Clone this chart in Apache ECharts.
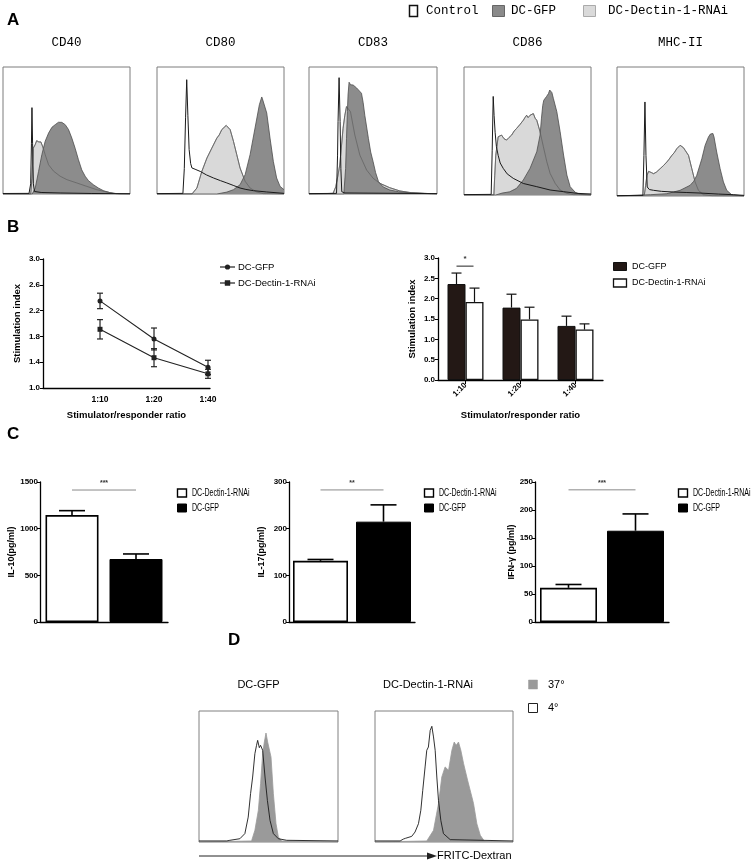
<!DOCTYPE html>
<html><head><meta charset="utf-8">
<script src="https://cdn.jsdelivr.net/npm/echarts@6/dist/echarts.min.js"></script>
<style>html,body{margin:0;padding:0;background:#fff}#c{width:753px;height:863px}</style>
</head><body><div id="c"></div>
<script>
// ---------------- Panel A: flow histograms [channel %, count %] ----------------
const markerTitles = ['CD40','CD80','CD83','CD86','MHC-II'];
const cd40Control = [[0,0.4],[20.5,0.5],[21.8,8],[22.4,40],[22.8,68],[23.3,40],[23.9,8],[24.8,2],[30,1.2],[45,0.8],[70,0.4],[100,0.2]];
const cd40Dectin = [[0,0],[21.8,0],[22.8,12],[23.8,36],[25.4,39],[26.5,42],[27.2,43],[28.2,41],[29,42.5],[29.8,41],[31.4,37],[33.2,31],[35.9,23],[39.8,18],[45,14],[50.3,11.3],[58.1,8.7],[66,6],[73.8,3.4],[81.7,1.6],[86.9,0.5],[92,0],[100,0]];
const cd40Gfp = [[0,0],[23,0],[25.4,4.7],[28,17.8],[30.6,31],[33.2,41.5],[35.9,48],[38.5,52.5],[41.1,54.6],[42.5,55.5],[43.7,56.5],[45,55.5],[46.3,56.4],[47.5,55.8],[49,54.6],[51.6,50.7],[54.2,44],[56.8,36],[59.4,27],[62,19],[64.7,14],[67.3,10.5],[71.2,7.3],[75.1,4.7],[79.1,2.6],[84.3,1],[89.5,0.3],[100,0]];

const cd80Control = [[0,0.3],[20.4,0.5],[21.5,20],[22.5,60],[23.4,90],[24.3,62],[25.3,35],[26.5,24],[27.5,20.5],[30,19.5],[34,17.8],[39,15],[44.5,12.6],[50,10.5],[55,8.7],[60,6.8],[65.4,4.7],[70,3.6],[76,2.6],[86.4,1.6],[100,0.5]];
const cd80Dectin = [[0,0],[27.5,0],[31.4,4.7],[35.3,17.8],[39.3,28.3],[43.2,36.2],[47.1,44],[49,46.5],[51,50.7],[52.5,52],[54.5,54],[55.5,52.5],[57.6,50.7],[60.2,41.5],[62.8,31],[65.4,20.5],[69.4,10],[73.3,4.7],[78.5,1.6],[83.8,0.3],[100,0]];
const cd80Gfp = [[0,0],[47.1,0],[55,1.5],[60.2,3.4],[65.4,7.3],[69.4,15.2],[73.3,31],[77.2,52],[80.6,70.3],[82.5,76.4],[83.3,74],[84.3,73],[86.4,63.8],[89,44],[91.6,25.7],[94.2,12.6],[96.9,6],[100,3.4]];

const cd83Control = [[0,0.3],[21.5,0.5],[22.3,30],[22.7,57],[23.5,91.6],[24.3,57],[24.9,20],[25.6,1.8],[28,0.8],[100,0.3]];
const cd83Dectin = [[0,0],[18.8,0.5],[20.9,5.7],[22.5,14],[24,22.8],[25.3,37],[26.6,51.7],[28,62],[29.3,68.8],[30.5,70],[32.4,64.8],[35.8,46.5],[39.7,30.7],[45,18.9],[50.1,12.4],[55.4,8.4],[63,5],[71,2.4],[80,1],[94.5,0.3],[100,0]];
const cd83Gfp = [[0,0],[27.2,0],[27.9,0.5],[28.6,20],[29.3,43.8],[30,65],[30.5,78],[31.3,88],[32.5,86],[33.5,87],[34.5,85.8],[36,84.5],[37.2,83.5],[38.4,83.2],[39.5,81],[41,79.3],[42.3,72],[43.6,62],[46.4,43.8],[48.2,33],[50.1,25.4],[52,17],[54.3,9.7],[58,5.5],[63.2,3.1],[70,1.8],[78.8,1],[90,0.4],[100,0]];

const cd86Control = [[0,0.3],[21.4,0.5],[22.2,35],[23,77],[23.7,62],[24.5,49],[25.5,38],[26.9,31],[28.5,25],[30.9,20.8],[34,16.5],[38.8,13],[46.7,9],[57.3,6.5],[67.8,3.9],[78.4,2.6],[88.9,1.3],[100,0.8]];
const cd86Dectin = [[0,0],[23.5,0],[24.2,15],[25,31],[26.9,45.5],[28,47],[29.6,46.8],[31.5,44],[33.5,42.9],[35.5,45],[37.5,46.8],[39.5,50],[41.4,52],[44,55],[46.7,58.4],[48,60.5],[49.3,62.3],[50.5,60.5],[52,62.3],[53.3,61],[54.6,63.6],[56,60],[57.3,58.4],[59.9,49.4],[62.5,37.7],[65.2,26],[67.8,16.9],[71.8,9.1],[75.7,3.9],[81,1.3],[86,0.3],[100,0]];
const cd86Gfp = [[0,0],[25,0],[30,1.5],[36,2.5],[41.4,5.2],[46.7,11.7],[52,20.8],[57.3,33.8],[59.9,46.8],[61,60],[62,70],[62.8,74],[63.9,75.3],[65,77],[66.5,79.2],[67.5,82],[68.3,83.1],[69.2,80],[70.4,75.3],[73.1,65],[75.7,49.4],[78.4,31.2],[81,15.6],[83.6,6.5],[87.6,2.1],[91.6,0.5],[100,0]];

const mhcControl = [[0,0.3],[20.4,0.5],[21.2,31.5],[22,72.9],[22.8,31.5],[23.8,7],[25.5,5],[28.8,4.4],[35,3.6],[44.5,3.1],[55,2.7],[65.4,2.3],[80,1.5],[91.6,1],[100,0.5]];
const mhcDectin = [[0,0],[21.5,0.5],[22.5,8],[23.6,16],[24.9,19.1],[27,18.2],[28.8,17.3],[31,18.5],[34,21.2],[36.5,23.5],[39.3,26.4],[41,28.5],[43.2,31.5],[45,33.5],[47.1,36.7],[48.5,38],[49.7,39.3],[51,38.8],[52.3,37.5],[53.7,35.4],[55,34],[56.3,31.5],[58.9,21.2],[61.5,10.9],[64.1,4.4],[68,1],[75,0.2],[100,0]];
const mhcGfp = [[0,0],[26.2,1],[39.3,1.8],[49.7,4.4],[57.6,8.3],[60.5,11.5],[62.8,16],[66.8,28.9],[69.4,39.3],[72,45.7],[73.5,48],[74.6,49.1],[75.5,48.5],[76.4,45.7],[78.5,34.1],[81.2,21.2],[83.8,10.9],[86.4,4.4],[90.3,1],[100,0]];

// ---------------- Panel B: MLR stimulation index ----------------
const ratioLabels = ['1:10','1:20','1:40'];
const lineGfp = [2.35, 1.76, 1.32];
const lineGfpErr = [0.12, 0.17, 0.11];
const lineDectin = [1.91, 1.47, 1.22];
const lineDectinErr = [0.15, 0.14, 0.07];
const barGfp = [2.36, 1.78, 1.33];
const barGfpErr = [0.27, 0.33, 0.24];
const barDectin = [1.92, 1.49, 1.24];
const barDectinErr = [0.34, 0.30, 0.14];

// ---------------- Panel C: cytokines ----------------
const cGroups = ['DC-Dectin-1-RNAi','DC-GFP'];
const il10 = [1146, 675];
const il10Err = [47, 54];
const il17 = [131, 215];
const il17Err = [3, 36];
const ifng = [61, 163];
const ifngErr = [6, 30];
const cTitles = ['IL-10(pg/ml)','IL-17(pg/ml)','IFN-γ (pg/ml)'];
const cMax = [1500, 300, 250];
const cStep = [500, 100, 50];
const cSigLabels = ['***','**','***'];
const cSigLevel = [1414, 283, 236];

// ---------------- Panel D: FITC-dextran uptake ----------------
const dTitles = ['DC-GFP','DC-Dectin-1-RNAi'];
const dGfpCold = [[0,0.8],[20,0.8],[22.2,1.3],[29.4,2.5],[33,6.4],[35.4,19],[37.1,36.9],[38.6,49.6],[40.2,67.4],[41.4,73.8],[42.2,77.6],[43.4,72],[44.3,73.8],[45.8,70],[47.5,49.6],[49.2,31.8],[51.1,16.5],[53.5,6.4],[57.1,2.5],[63.1,1.3],[100,0.8]];
const dGfpWarm = [[0,0],[37.8,0.8],[40.2,8.9],[42.7,24.2],[44.3,44.5],[45.8,67.4],[47,76.3],[48.2,83.2],[49.4,76.3],[50.6,77.6],[51.8,64.9],[53.5,36.9],[55.4,14],[57.1,3.8],[59.5,0.8],[100,0]];
const dDectinCold = [[0,0.8],[18.2,0.8],[20.5,2.2],[22,2.8],[23,2.5],[26.6,4.3],[29,7.6],[31.5,14],[33.2,24.2],[34.6,39.4],[36.3,57.3],[37.5,70],[38.7,72.5],[40,85.2],[41.2,88.3],[42.4,80.2],[43.6,70],[44.8,49.6],[46,31.8],[47.7,16.5],[49.6,6.4],[54.5,1.8],[100,0.8]];
const dDectinWarm = [[0,0],[37.5,0.8],[42.4,8.9],[46,29.3],[48.4,49.6],[50.8,57.3],[52,56],[53.3,54.7],[55.7,70],[57.4,76.3],[58.8,73.8],[60.5,76.3],[62.2,70],[64.2,59.8],[67.1,47.1],[70.2,34.4],[71.4,29.3],[73.8,14],[76.3,5.1],[79.2,0.8],[100,0]];

// ======================================================================
const SANS = "'Liberation Sans', Arial, sans-serif";
const NARROW = "'Liberation Sans Narrow', 'Liberation Sans', sans-serif";
const MONO = "'Liberation Mono', monospace";

const grids = [], xAxes = [], yAxes = [], series = [];
function addGrid(g){ grids.push(g); return grids.length - 1; }

const histBoxes = [
  {left:3, top:67, width:127, height:127},
  {left:157, top:67, width:127, height:127},
  {left:309, top:67, width:128, height:127},
  {left:464, top:67, width:127, height:128},
  {left:617, top:67, width:127, height:129}
];
const histData = [
  [cd40Dectin, cd40Gfp, cd40Control],
  [cd80Dectin, cd80Gfp, cd80Control],
  [cd83Dectin, cd83Gfp, cd83Control],
  [cd86Dectin, cd86Gfp, cd86Control],
  [mhcDectin, mhcGfp, mhcControl]
];
function hiddenAxes(gi){
  xAxes.push({type:'value', gridIndex:gi, min:0, max:100, show:false});
  yAxes.push({type:'value', gridIndex:gi, min:0, max:100, show:false});
}
function lineS(gi, data, stroke, w, fill, z){
  const s = {type:'line', xAxisIndex:gi, yAxisIndex:gi, data, symbol:'none', silent:true, z,
    lineStyle:{color:stroke, width:w}};
  if (fill) s.areaStyle = {color:fill, opacity:1};
  return s;
}
histBoxes.forEach((b, k) => {
  const gi = addGrid(Object.assign({show:true, borderColor:'#7d7d7d', borderWidth:1, backgroundColor:'#fff'}, b));
  hiddenAxes(gi);
  const [light, dark, ctrl] = histData[k];
  series.push(lineS(gi, light, '#707070', 0.8, '#d9d9d9', 2));
  series.push(lineS(gi, dark, '#4d4d4d', 0.8, '#8c8c8c', 3));
  series.push(lineS(gi, light, '#5e5e5e', 0.7, null, 4));
  series.push(lineS(gi, ctrl, '#1a1a1a', 1, null, 5));
});

const dBoxes = [
  {left:199, top:711, width:139, height:131},
  {left:375, top:711, width:138, height:131}
];
const dData = [[dGfpWarm, dGfpCold],[dDectinWarm, dDectinCold]];
dBoxes.forEach((b, k) => {
  const gi = addGrid(Object.assign({show:true, borderColor:'#808080', borderWidth:1, backgroundColor:'#fff'}, b));
  hiddenAxes(gi);
  series.push(lineS(gi, dData[k][0], '#9a9a9a', 0.8, '#9a9a9a', 2));
  series.push(lineS(gi, dData[k][1], '#1a1a1a', 0.9, null, 4));
});

function axStyle(extra){
  return Object.assign({
    axisLine:{show:true, onZero:false, lineStyle:{color:'#000', width:1.3}},
    axisTick:{show:true, length:3, lineStyle:{color:'#000', width:1}},
    axisLabel:{color:'#000', fontSize:8, fontWeight:'bold', fontFamily:SANS, margin:3},
    splitLine:{show:false}
  }, extra);
}

function errBars(gi, xs, values, errs, offsetPx, capPx, both, color, lw){
  return {type:'custom', xAxisIndex:gi, yAxisIndex:gi, silent:true, z:6, clip:false,
    data: values.map((v, i) => [xs[i], v, errs[i]]),
    renderItem(params, api){
      const x = api.value(0), v = api.value(1), e = api.value(2);
      const mid = api.coord([x, v]);
      const top = api.coord([x, v + e]);
      const bot = both ? api.coord([x, v - e]) : mid;
      const cx = mid[0] + offsetPx;
      const st = {stroke:color, lineWidth:lw};
      const ch = [
        {type:'line', shape:{x1:cx, y1:bot[1], x2:cx, y2:top[1]}, style:st},
        {type:'line', shape:{x1:cx-capPx, y1:top[1], x2:cx+capPx, y2:top[1]}, style:st}
      ];
      if (both) ch.push({type:'line', shape:{x1:cx-capPx, y1:bot[1], x2:cx+capPx, y2:bot[1]}, style:st});
      return {type:'group', children:ch};
    }};
}
function sigMark(gi, x0, x1, off0, off1, level, label, color, fontSize){
  return {type:'custom', xAxisIndex:gi, yAxisIndex:gi, silent:true, z:6, clip:false,
    data:[[x0, level, x1]],
    renderItem(params, api){
      const p0 = api.coord([api.value(0), api.value(1)]);
      const p1 = api.coord([api.value(2), api.value(1)]);
      const a = p0[0] + off0, b = p1[0] + off1;
      return {type:'group', children:[
        {type:'line', shape:{x1:a, y1:p0[1], x2:b, y2:p0[1]}, style:{stroke:color, lineWidth:1}},
        {type:'text', x:(a+b)/2, y:p0[1]-7, style:{text:label, fill:'#333', font:'bold '+fontSize+'px '+SANS, textAlign:'center', textVerticalAlign:'middle'}}
      ]};
    }};
}

// ---- B1 line chart ----
const gB1 = addGrid({left:43, top:259, width:167, height:129});
xAxes.push(axStyle({type:'value', gridIndex:gB1, min:-0.056, max:3.037,
  axisTick:{show:false},
  axisLabel:{color:'#000', fontSize:8.5, fontWeight:'bold', fontFamily:SANS, margin:7,
    customValues:[1,2,3], formatter:v => ratioLabels[Math.round(v)-1] || ''},
  name:'Stimulator/responder ratio', nameLocation:'middle', nameGap:22,
  nameTextStyle:{color:'#000', fontWeight:'bold', fontSize:9.5, fontFamily:SANS}}));
yAxes.push(axStyle({type:'value', gridIndex:gB1, min:1, max:3, interval:0.4,
  axisLabel:{color:'#000', fontSize:8, fontWeight:'bold', fontFamily:SANS, margin:3, formatter:v => v.toFixed(1)},
  name:'Stimulation index', nameLocation:'middle', nameRotate:90, nameGap:21,
  nameTextStyle:{color:'#000', fontWeight:'bold', fontSize:9.5, fontFamily:SANS}}));
const xsB1 = [1,2,3];
series.push({type:'line', name:'DC-GFP', xAxisIndex:gB1, yAxisIndex:gB1, data:lineGfp.map((v,i)=>[xsB1[i], v]),
  symbol:'circle', symbolSize:5, lineStyle:{color:'#222', width:1.1}, itemStyle:{color:'#222'}, z:5});
series.push({type:'line', name:'DC-Dectin-1-RNAi', xAxisIndex:gB1, yAxisIndex:gB1, data:lineDectin.map((v,i)=>[xsB1[i], v]),
  symbol:'rect', symbolSize:5, lineStyle:{color:'#222', width:1.1}, itemStyle:{color:'#222'}, z:5});
series.push(errBars(gB1, xsB1, lineGfp, lineGfpErr, 0, 3, true, '#222', 1.2));
series.push(errBars(gB1, xsB1, lineDectin, lineDectinErr, 0, 3, true, '#222', 1.2));

// ---- B2 bar chart ----
const gB2 = addGrid({left:438, top:258, width:165, height:122});
xAxes.push(axStyle({type:'category', gridIndex:gB2, data:ratioLabels,
  axisTick:{show:true, alignWithLabel:true, length:4, lineStyle:{color:'#000', width:1}},
  axisLabel:{color:'#000', fontSize:8, fontWeight:'bold', fontFamily:SANS, rotate:45, margin:4},
  name:'Stimulator/responder ratio', nameLocation:'middle', nameGap:30,
  nameTextStyle:{color:'#000', fontWeight:'bold', fontSize:9.5, fontFamily:SANS}}));
yAxes.push(axStyle({type:'value', gridIndex:gB2, min:0, max:3, interval:0.5,
  axisLabel:{color:'#000', fontSize:8, fontWeight:'bold', fontFamily:SANS, margin:3, formatter:v => v.toFixed(1)},
  name:'Stimulation index', nameLocation:'middle', nameRotate:90, nameGap:21,
  nameTextStyle:{color:'#000', fontWeight:'bold', fontSize:9.5, fontFamily:SANS}}));
series.push({type:'bar', name:'DC-GFP', xAxisIndex:gB2, yAxisIndex:gB2, data:barGfp, barWidth:18, barGap:'0%',
  itemStyle:{color:'#231815', borderColor:'#111', borderWidth:1}, silent:true, z:3});
series.push({type:'bar', name:'DC-Dectin-1-RNAi', xAxisIndex:gB2, yAxisIndex:gB2, data:barDectin, barWidth:18, barGap:'0%',
  itemStyle:{color:'#fff', borderColor:'#111', borderWidth:1.3}, silent:true, z:3});
series.push(errBars(gB2, [0,1,2], barGfp, barGfpErr, -9, 5, false, '#111', 1.2));
series.push(errBars(gB2, [0,1,2], barDectin, barDectinErr, 9, 5, false, '#111', 1.2));
series.push(sigMark(gB2, 0, 0, -9, 8, 2.8, '*', '#222', 8));

// ---- C bar charts ----
const cBoxes = [
  {left:40, top:482, width:128, height:140},
  {left:289, top:482, width:126, height:140},
  {left:535, top:482, width:134, height:140}
];
const cVals = [il10, il17, ifng];
const cErrs = [il10Err, il17Err, ifngErr];
const cBarW = [53, 55, 57];
const cNameGap = [24, 23, 15];
cBoxes.forEach((b, k) => {
  const gi = addGrid(b);
  xAxes.push(axStyle({type:'category', gridIndex:gi, data:cGroups,
    axisTick:{show:false}, axisLabel:{show:false}}));
  yAxes.push(axStyle({type:'value', gridIndex:gi, min:0, max:cMax[k], interval:cStep[k],
    axisLabel:{color:'#000', fontSize:8, fontWeight:'bold', fontFamily:NARROW, margin:2, formatter:v => String(v)},
    name:cTitles[k], nameLocation:'middle', nameRotate:90, nameGap:cNameGap[k],
    nameTextStyle:{color:'#000', fontWeight:'bold', fontSize:9, fontFamily:SANS}}));
  series.push({type:'bar', xAxisIndex:gi, yAxisIndex:gi, barWidth:cBarW[k], silent:true, z:3,
    data: cVals[k].map((v, i) => ({value:v, itemStyle: i === 0
      ? {color:'#fff', borderColor:'#000', borderWidth:1.6}
      : {color:'#000', borderColor:'#000', borderWidth:1}}))});
  series.push(errBars(gi, [0,1], cVals[k], cErrs[k], 0, 13, false, '#000', 1.6));
  series.push(sigMark(gi, 0, 1, 0, 0, cSigLevel[k], cSigLabels[k], '#8a8a8a', 7));
});

// ---------------- graphic text / legends ----------------
const G = [];
function txt(x, y, text, font, extra){
  G.push(Object.assign({type:'text', x, y, silent:true,
    style:{text, font, fill:'#000', textAlign:'left', textVerticalAlign:'middle'}}, extra || {}));
}
function box(x, y, w, h, fill, stroke, lw){
  G.push({type:'rect', silent:true, shape:{x, y, width:w, height:h}, style:{fill, stroke, lineWidth:lw}});
}
txt(7, 20, 'A', 'bold 17px ' + SANS);
txt(7, 227, 'B', 'bold 17px ' + SANS);
txt(7, 434, 'C', 'bold 17px ' + SANS);
txt(228, 640, 'D', 'bold 17px ' + SANS);

box(409.5, 5.5, 8, 11, '#fff', '#111', 1.5);
txt(426, 11, 'Control', '12.5px ' + MONO);
box(492.5, 5.5, 12, 11, '#8a8a8a', '#666', 1);
txt(511, 11, 'DC-GFP', '12.5px ' + MONO);
box(583.5, 5.5, 12, 11, '#dadada', '#aaa', 1);
txt(608, 11, 'DC-Dectin-1-RNAi', '12.5px ' + MONO);
histBoxes.forEach((b, k) => {
  G.push({type:'text', x:b.left + b.width/2, y:43, silent:true,
    style:{text:markerTitles[k], font:'12.5px ' + MONO, fill:'#000', textAlign:'center', textVerticalAlign:'middle'}});
});

G.push({type:'line', silent:true, shape:{x1:220, y1:267, x2:235, y2:267}, style:{stroke:'#222', lineWidth:1.2}});
G.push({type:'circle', silent:true, shape:{cx:227.5, cy:267, r:2.6}, style:{fill:'#222'}});
txt(238, 267, 'DC-GFP', '9.5px ' + SANS);
G.push({type:'line', silent:true, shape:{x1:220, y1:283, x2:235, y2:283}, style:{stroke:'#222', lineWidth:1.2}});
box(225, 280.5, 5, 5, '#222', '#222', 0.5);
txt(238, 283, 'DC-Dectin-1-RNAi', '9.5px ' + SANS);

box(613.5, 262.5, 13, 8, '#231815', '#111', 1);
txt(632, 267, 'DC-GFP', '9px ' + SANS);
box(613.5, 279, 13, 8, '#fff', '#111', 1.3);
txt(632, 283, 'DC-Dectin-1-RNAi', '9px ' + SANS);

const cLegX = [177, 424, 678];
cLegX.forEach(x => {
  box(x + 0.5, 489, 9, 8, '#fff', '#000', 1.4);
  txt(x + 15, 493, cGroups[0], '11px ' + SANS, {scaleX:0.64});
  box(x + 0.5, 504, 9, 8, '#000', '#000', 1);
  txt(x + 15, 508, cGroups[1], '11px ' + SANS, {scaleX:0.64});
});

dBoxes.forEach((b, k) => {
  G.push({type:'text', x:b.left + b.width/2 + (k === 0 ? -10 : -16), y:685, silent:true,
    style:{text:dTitles[k], font:'11px ' + SANS, fill:'#000', textAlign:'center', textVerticalAlign:'middle'}});
});
box(528.5, 680, 9, 9, '#9a9a9a', '#9a9a9a', 0.5);
txt(548, 684.5, '37°', '11px ' + SANS);
box(528.5, 703.5, 9, 9, '#fff', '#222', 1);
txt(548, 707.5, '4°', '11px ' + SANS);
G.push({type:'line', silent:true, shape:{x1:199, y1:856, x2:430, y2:856}, style:{stroke:'#222', lineWidth:1}});
G.push({type:'polygon', silent:true, shape:{points:[[427,852.5],[437,856],[427,859.5]]}, style:{fill:'#222'}});
txt(437, 856, 'FRITC-Dextran', '11px ' + SANS);

const chart = echarts.init(document.getElementById('c'), null, {renderer:'canvas', width:753, height:863});
chart.setOption({
  animation:false,
  backgroundColor:'#fff',
  grid:grids, xAxis:xAxes, yAxis:yAxes, series,
  graphic:{elements:G}
});
</script>
</body></html>
